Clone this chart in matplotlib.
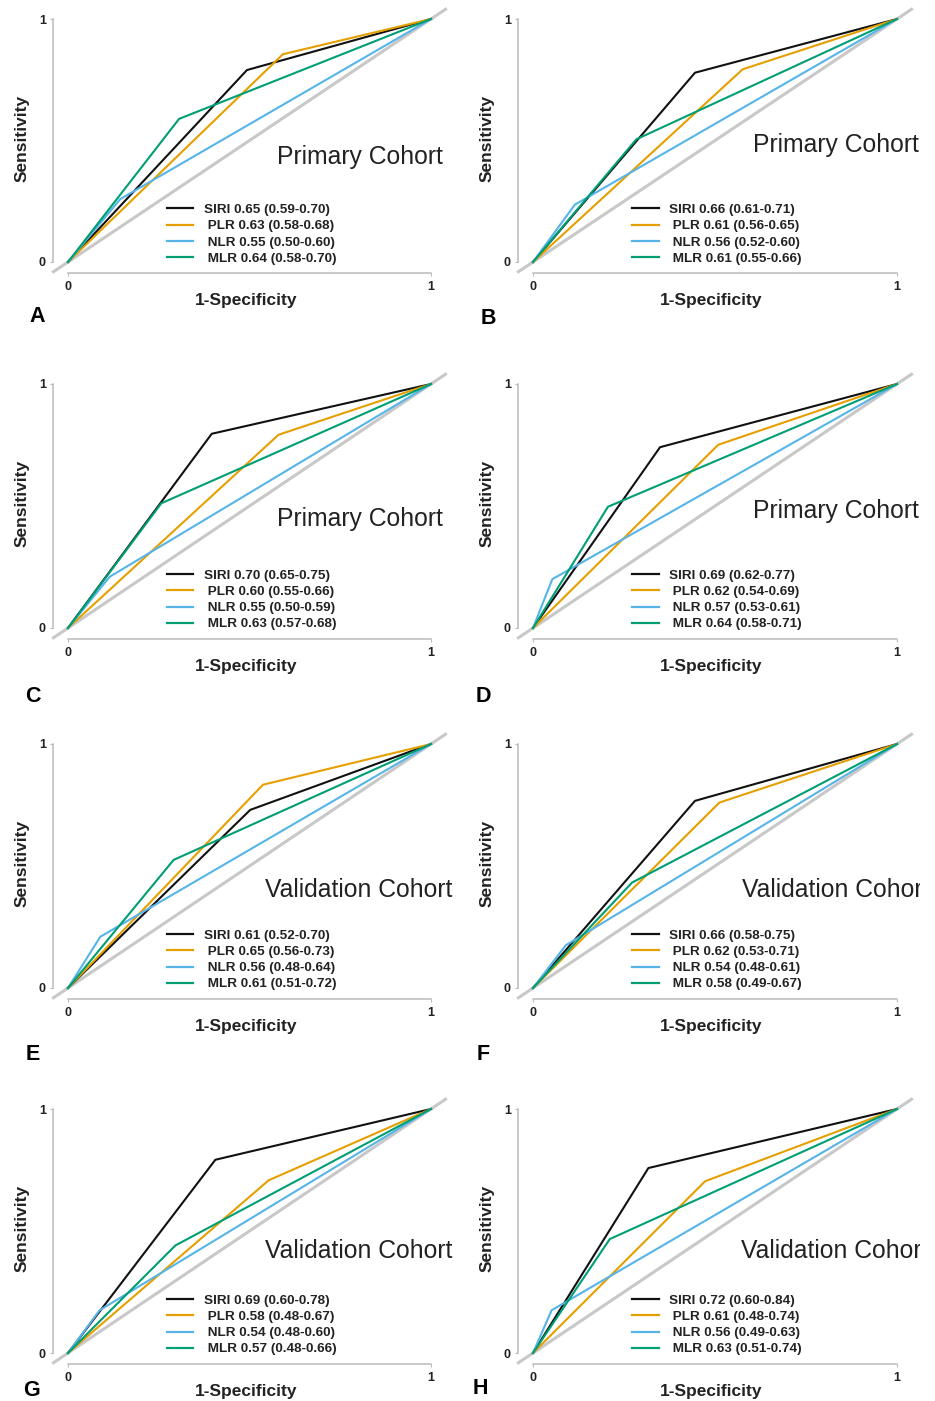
import numpy as np
import matplotlib
matplotlib.use("Agg")
import matplotlib.pyplot as plt

plt.rcParams['font.family'] = ['Liberation Sans', 'DejaVu Sans']

# --- данные: точка перегиба ROC-кривой (1-Specificity, Sensitivity) для каждого маркера ---
MARKERS = ["SIRI", "PLR", "NLR", "MLR"]
COLORS = ["#111111", "#E69F00", "#56B4E9", "#009E73"]
PANELS = ["A", "B", "C", "D", "E", "F", "G", "H"]
COHORTS = ["Primary Cohort"] * 4 + ["Validation Cohort"] * 4

FPR = [
    [0.493, 0.592, 0.144, 0.306],  # A
    [0.445, 0.576, 0.115, 0.284],  # B
    [0.396, 0.580, 0.115, 0.257],  # C
    [0.349, 0.509, 0.053, 0.206],  # D
    [0.502, 0.537, 0.089, 0.291],  # E
    [0.445, 0.512, 0.090, 0.272],  # F
    [0.406, 0.553, 0.087, 0.296],  # G
    [0.317, 0.473, 0.051, 0.211],  # H
]
TPR = [
    [0.790, 0.855, 0.259, 0.589],
    [0.779, 0.793, 0.236, 0.505],
    [0.796, 0.792, 0.210, 0.511],
    [0.741, 0.751, 0.200, 0.497],
    [0.730, 0.833, 0.210, 0.525],
    [0.767, 0.760, 0.175, 0.432],
    [0.792, 0.708, 0.175, 0.441],
    [0.758, 0.704, 0.175, 0.467],
]
AUC_TEXT = [
    ["0.65 (0.59-0.70)", "0.63 (0.58-0.68)", "0.55 (0.50-0.60)", "0.64 (0.58-0.70)"],
    ["0.66 (0.61-0.71)", "0.61 (0.56-0.65)", "0.56 (0.52-0.60)", "0.61 (0.55-0.66)"],
    ["0.70 (0.65-0.75)", "0.60 (0.55-0.66)", "0.55 (0.50-0.59)", "0.63 (0.57-0.68)"],
    ["0.69 (0.62-0.77)", "0.62 (0.54-0.69)", "0.57 (0.53-0.61)", "0.64 (0.58-0.71)"],
    ["0.61 (0.52-0.70)", "0.65 (0.56-0.73)", "0.56 (0.48-0.64)", "0.61 (0.51-0.72)"],
    ["0.66 (0.58-0.75)", "0.62 (0.53-0.71)", "0.54 (0.48-0.61)", "0.58 (0.49-0.67)"],
    ["0.69 (0.60-0.78)", "0.58 (0.48-0.67)", "0.54 (0.48-0.60)", "0.57 (0.48-0.66)"],
    ["0.72 (0.60-0.84)", "0.61 (0.48-0.74)", "0.56 (0.49-0.63)", "0.63 (0.51-0.74)"],
]

# --- геометрия (в пикселях исходной картинки) ---
W, H = 935, 1401
COL_X = [(68, 431), (533, 897)]          # пиксели x=0 и x=1
ROW_Y = [(262, 19), (628, 384), (988, 744), (1353, 1109)]  # пиксели y=0 и y=1
COL_LR = [(30, 466), (495, 920)]         # границы осей (справа текст обрезается)
TEXT_POS = [(0.576, 0.432), (0.604, 0.481), (0.576, 0.447), (0.604, 0.48),
            (0.543, 0.40), (0.574, 0.40), (0.543, 0.418), (0.571, 0.418)]
LETTER_POS = [(37, 317), (488, 318), (33, 697), (483, 697),
              (33, 1055), (483, 1055), (32, 1390), (480, 1388)]

fig = plt.figure(figsize=(W / 100, H / 100), dpi=100)

for k in range(8):
    r, c = divmod(k, 2)
    x0, x1 = COL_X[c]
    y0, y1 = ROW_Y[r]
    L, R = COL_LR[c]
    T, B = y1 - 15, y0 + 22
    ax = fig.add_axes([L / W, 1 - B / H, (R - L) / W, (B - T) / H])
    ax.set_xlim((L - x0) / (x1 - x0), (R - x0) / (x1 - x0))
    ax.set_ylim((y0 - B) / (y0 - y1), (y0 - T) / (y0 - y1))
    ax.patch.set_visible(False)

    ax.plot([-0.04, 1.04], [-0.04, 1.04], color="#C8C8C8", lw=2.2, zorder=1)
    for m in range(4):
        ax.plot([0, FPR[k][m], 1], [0, TPR[k][m], 1], color=COLORS[m], lw=1.5,
                label=("" if m == 0 else " ") + MARKERS[m] + " " + AUC_TEXT[k][m], zorder=2)

    leg = ax.legend(loc="upper left", bbox_to_anchor=(0.273, 0.24), bbox_transform=ax.transData,
                    frameon=False, borderpad=0, borderaxespad=0, handlelength=1.95,
                    handletextpad=0.8, labelspacing=0.28,
                    prop={"size": 9.7, "weight": "bold"})
    for t in leg.get_texts():
        t.set_color("#222222")
    for h in leg.get_lines():
        h.set_linewidth(1.6)

    ax.text(TEXT_POS[k][0], TEXT_POS[k][1], COHORTS[k], fontsize=17.8, color="#222222",
            ha="left", va="center", clip_on=True)

    for s in ["top", "right"]:
        ax.spines[s].set_visible(False)
    ax.spines["left"].set_position(("data", -0.04))
    ax.spines["bottom"].set_position(("data", -0.045))
    ax.spines["left"].set_bounds(0, 1)
    ax.spines["bottom"].set_bounds(0, 1)
    for s in ["left", "bottom"]:
        ax.spines[s].set_color("#BBBBBB")
        ax.spines[s].set_linewidth(1.1)
    ax.set_xticks([0, 1])
    ax.set_yticks([0, 1])
    ax.set_xticklabels(["0", "1"], fontweight="bold", fontsize=9)
    ax.set_yticklabels(["0", "1"], fontweight="bold", fontsize=9)
    ax.tick_params(length=2.5, color="#BBBBBB", pad=3, labelcolor="#222222")

    ax.text(0.49, -0.158, "1-Specificity", fontsize=12.5, fontweight="bold", color="#222222",
            ha="center", va="center")
    ax.text(-0.127, 0.51, "Sensitivity", fontsize=12.5, fontweight="bold", color="#222222",
            ha="center", va="center", rotation=90)

    lx, ly = LETTER_POS[k]
    fig.text(lx / W, 1 - ly / H, PANELS[k], fontsize=15.5, fontweight="bold",
             ha="center", va="center")

fig.savefig("out.png", dpi=100)
